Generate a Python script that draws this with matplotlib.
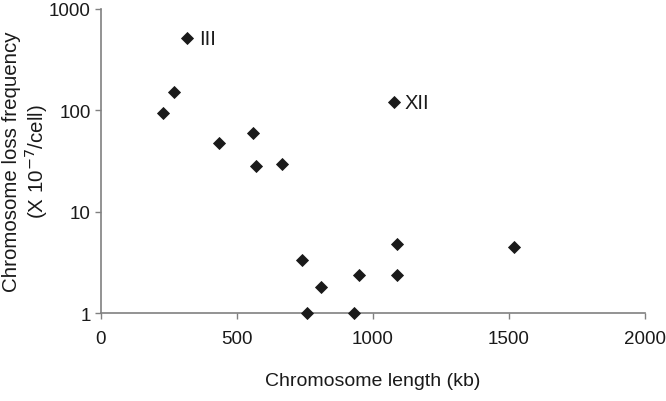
import matplotlib
matplotlib.use("Agg")
import matplotlib.pyplot as plt
from matplotlib.ticker import FixedLocator, NullLocator, FixedFormatter

plt.rcParams['font.family'] = ['Liberation Sans', 'DejaVu Sans']

# Dane
length_kb = [317, 270, 228, 435, 562, 573, 666, 1077, 742, 810, 760, 930, 950, 1090, 1090, 1518]
loss_freq = [509, 150, 93, 48, 59, 28.5, 29.4, 120, 3.34, 1.80, 1.0, 1.0, 2.4, 4.77, 2.4, 4.49]

labels = ['III', 'XII']
label_x = [362, 1118]
label_y = [509, 120]

x_ticks = [0, 500, 1000, 1500, 2000]
y_ticks = [1, 10, 100, 1000]

fig = plt.figure(figsize=(6.66, 4.02), dpi=100)
ax = fig.add_axes([0.151, 0.218, 0.817, 0.758])

ax.plot(length_kb, loss_freq, linestyle='none', marker='D', markersize=6.2,
        color='#1a1a1a', markeredgewidth=0.6, clip_on=False, zorder=3)

for t, x, y in zip(labels, label_x, label_y):
    ax.text(x, y, t, fontsize=14.5, va='center', ha='left', color='#1a1a1a')

ax.set_yscale('log')
ax.set_xlim(0, 2000)
ax.set_ylim(1, 1000)
ax.xaxis.set_major_locator(FixedLocator(x_ticks))
ax.yaxis.set_major_locator(FixedLocator(y_ticks))
ax.yaxis.set_major_formatter(FixedFormatter([str(v) for v in y_ticks]))
ax.yaxis.set_minor_locator(NullLocator())

for s in ['top', 'right']:
    ax.spines[s].set_visible(False)
for s in ['left', 'bottom']:
    ax.spines[s].set_color('#808080')
    ax.spines[s].set_linewidth(1.2)

ax.tick_params(axis='both', which='major', direction='out', length=4, width=1,
               color='#808080', labelsize=13.5, labelcolor='#1a1a1a')
ax.tick_params(axis='x', pad=8)
ax.tick_params(axis='y', pad=3)

ax.set_xlabel('Chromosome length (kb)', fontsize=14, color='#1a1a1a', labelpad=18)

# opis osi Y jako tekst figury, dwie linie
fig.text(26 / 666, 1 - 162 / 402, 'Chromosome loss frequency\n(X 10$^{-7}$/cell)',
         rotation=90, ha='center', va='center', fontsize=14.8, color='#1a1a1a',
         linespacing=1.08, multialignment='center')

fig.savefig('out.png', dpi=100)
